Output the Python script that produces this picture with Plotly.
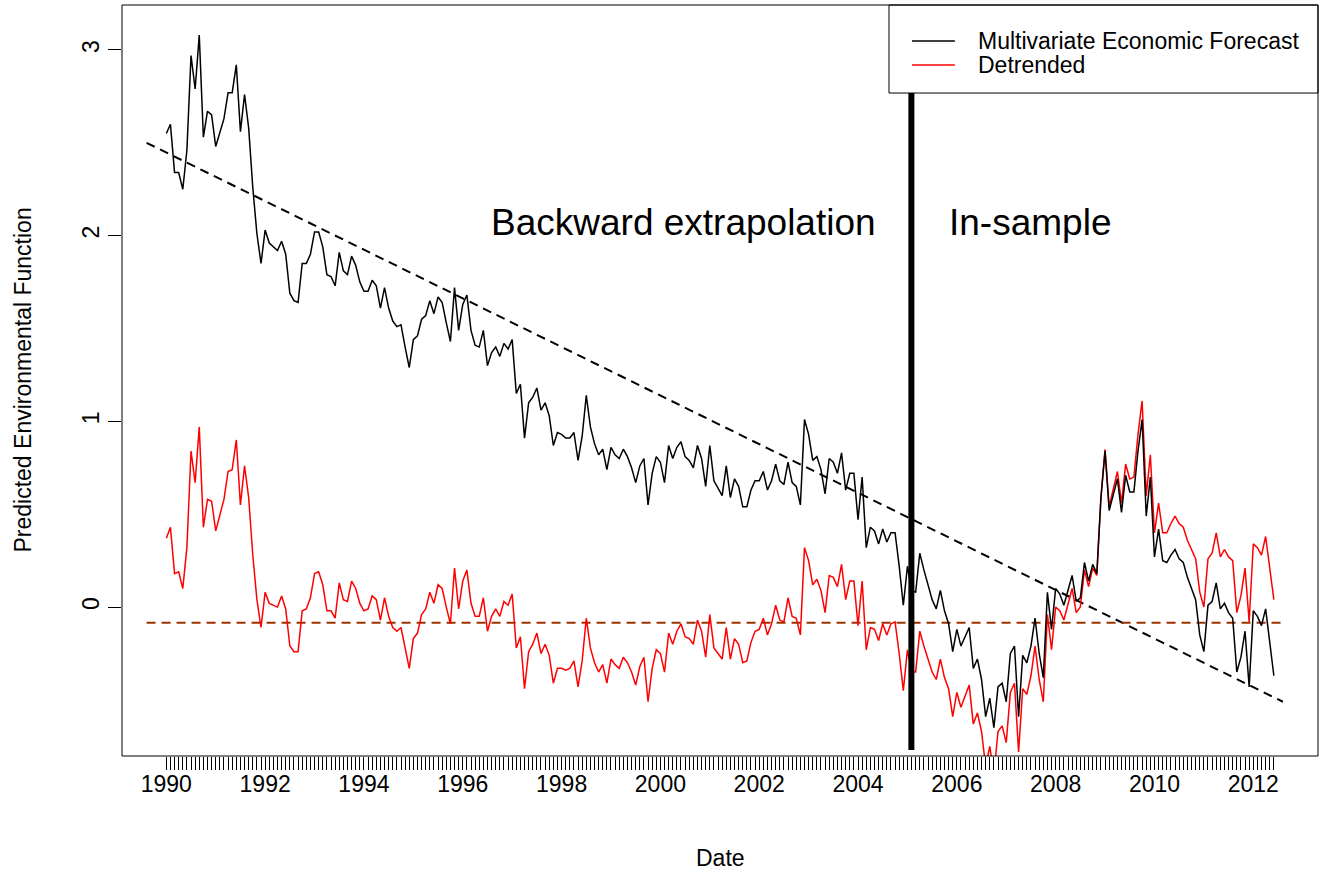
import plotly.graph_objects as go

# Monthly time axis: January 1990 .. June 2012
start_year = 1990
n_months = 270
months = [start_year + k / 12 for k in range(n_months)]

# Multivariate economic forecast (monthly)
forecast = [
    2.55, 2.60, 2.34, 2.34, 2.25, 2.46, 2.97, 2.79, 3.08, 2.53, 2.67, 2.65,
    2.48, 2.56, 2.63, 2.77, 2.77, 2.92, 2.56, 2.76, 2.58, 2.26, 2.01, 1.85,
    2.03, 1.96, 1.94, 1.92, 1.97, 1.90, 1.69, 1.65, 1.64, 1.85, 1.85, 1.90,
    2.02, 2.02, 1.94, 1.79, 1.78, 1.73, 1.91, 1.81, 1.79, 1.89, 1.84, 1.75,
    1.70, 1.70, 1.76, 1.73, 1.61, 1.72, 1.61, 1.54, 1.51, 1.52, 1.40, 1.29,
    1.44, 1.46, 1.55, 1.57, 1.65, 1.58, 1.67, 1.64, 1.53, 1.43, 1.72, 1.49,
    1.63, 1.68, 1.49, 1.41, 1.40, 1.49, 1.30, 1.37, 1.40, 1.35, 1.42, 1.39,
    1.44, 1.15, 1.20, 0.91, 1.10, 1.13, 1.18, 1.06, 1.10, 1.03, 0.87, 0.94,
    0.93, 0.91, 0.91, 0.94, 0.79, 0.92, 1.14, 0.97, 0.88, 0.82, 0.85, 0.74,
    0.86, 0.82, 0.80, 0.85, 0.81, 0.75, 0.67, 0.76, 0.80, 0.55, 0.72, 0.81,
    0.78, 0.67, 0.87, 0.80, 0.86, 0.89, 0.81, 0.79, 0.75, 0.87, 0.80, 0.65,
    0.87, 0.68, 0.64, 0.60, 0.76, 0.59, 0.69, 0.65, 0.54, 0.54, 0.63, 0.68,
    0.68, 0.73, 0.63, 0.68, 0.77, 0.68, 0.66, 0.78, 0.67, 0.65, 0.55, 1.01,
    0.93, 0.79, 0.81, 0.74, 0.61, 0.80, 0.78, 0.72, 0.83, 0.63, 0.72, 0.72,
    0.47, 0.70, 0.32, 0.43, 0.41, 0.34, 0.42, 0.35, 0.40, 0.40, 0.22, 0.01,
    0.22, 0.09, 0.08, 0.29, 0.20, 0.12, 0.04, -0.01, 0.09, -0.02, -0.09, -0.24,
    -0.12, -0.21, -0.16, -0.11, -0.33, -0.28, -0.39, -0.59, -0.49, -0.65, -0.43, -0.41,
    -0.51, -0.25, -0.21, -0.59, -0.26, -0.30, -0.21, -0.06, -0.25, -0.38, 0.08, -0.12,
    0.10, 0.07, 0.01, 0.09, 0.17, 0.03, 0.05, 0.24, 0.14, 0.23, 0.18, 0.59,
    0.84, 0.52, 0.60, 0.69, 0.51, 0.71, 0.62, 0.62, 0.84, 1.01, 0.49, 0.70,
    0.27, 0.42, 0.25, 0.24, 0.28, 0.31, 0.26, 0.24, 0.16, 0.10, 0.04, -0.15,
    -0.24, 0.01, 0.03, 0.13, -0.01, 0.02, -0.03, -0.06, -0.35, -0.27, -0.13, -0.43,
    -0.02, -0.05, -0.10, -0.01, -0.19, -0.37,
]

# Detrended series (monthly)
detrended = [
    0.37, 0.43, 0.18, 0.19, 0.10, 0.32, 0.84, 0.67, 0.97, 0.43, 0.58, 0.57,
    0.41, 0.50, 0.58, 0.73, 0.74, 0.90, 0.55, 0.76, 0.59, 0.28, 0.04, -0.11,
    0.08, 0.02, 0.01, 0.00, 0.06, -0.01, -0.21, -0.24, -0.24, -0.02, -0.01, 0.05,
    0.18, 0.19, 0.12, -0.02, -0.02, -0.06, 0.13, 0.04, 0.03, 0.14, 0.10, 0.02,
    -0.02, -0.01, 0.06, 0.04, -0.07, 0.05, -0.05, -0.11, -0.13, -0.11, -0.22, -0.33,
    -0.17, -0.14, -0.04, -0.01, 0.08, 0.02, 0.12, 0.10, 0.00, -0.09, 0.21, -0.01,
    0.14, 0.20, 0.02, -0.05, -0.05, 0.05, -0.13, -0.05, -0.01, -0.05, 0.03, 0.01,
    0.07, -0.22, -0.16, -0.44, -0.24, -0.20, -0.14, -0.25, -0.20, -0.26, -0.41, -0.33,
    -0.33, -0.34, -0.33, -0.29, -0.43, -0.29, -0.06, -0.22, -0.30, -0.35, -0.31, -0.41,
    -0.28, -0.31, -0.33, -0.27, -0.30, -0.35, -0.42, -0.32, -0.27, -0.51, -0.33, -0.23,
    -0.25, -0.35, -0.14, -0.20, -0.13, -0.09, -0.16, -0.17, -0.20, -0.07, -0.13, -0.27,
    -0.04, -0.22, -0.25, -0.28, -0.11, -0.28, -0.17, -0.20, -0.30, -0.29, -0.19, -0.13,
    -0.12, -0.06, -0.15, -0.09, 0.01, -0.07, -0.08, 0.05, -0.05, -0.06, -0.15, 0.32,
    0.25, 0.12, 0.15, 0.09, -0.03, 0.17, 0.16, 0.11, 0.23, 0.04, 0.14, 0.14,
    -0.10, 0.14, -0.23, -0.11, -0.12, -0.18, -0.09, -0.15, -0.09, -0.08, -0.25, -0.45,
    -0.23, -0.35, -0.35, -0.13, -0.21, -0.28, -0.35, -0.39, -0.28, -0.38, -0.44, -0.59,
    -0.46, -0.54, -0.48, -0.42, -0.63, -0.57, -0.67, -0.86, -0.75, -0.90, -0.67, -0.64,
    -0.73, -0.46, -0.41, -0.78, -0.44, -0.47, -0.37, -0.21, -0.39, -0.51, -0.04, -0.23,
    0.00, -0.02, -0.07, 0.02, 0.10, -0.03, 0.00, 0.20, 0.11, 0.21, 0.17, 0.59,
    0.85, 0.54, 0.63, 0.73, 0.56, 0.77, 0.69, 0.70, 0.93, 1.11, 0.60, 0.82,
    0.40, 0.56, 0.40, 0.40, 0.45, 0.49, 0.45, 0.43, 0.36, 0.31, 0.26, 0.08,
    0.00, 0.26, 0.29, 0.40, 0.27, 0.31, 0.27, 0.25, -0.03, 0.06, 0.21, -0.08,
    0.34, 0.32, 0.28, 0.38, 0.21, 0.04,
]

# Reference lines
trend_x = [1989.6, 2012.6]
trend_y = [2.50, -0.51]
mean_x = [1989.6, 2012.6]
mean_level = -0.085
break_date = 2005.08
break_y = [-0.77, 3.4]

# Axis ticks
label_years = list(range(1990, 2013, 2))
y_ticks = [0, 1, 2, 3]
tick_text = []
for m in months:
    yr = round(m)
    tick_text.append(str(yr) if abs(m - yr) < 1e-6 and yr in label_years else "")

FONT = "Liberation Sans, Arial, Helvetica, sans-serif"
SMALL = 23
DASH = "9px,6px"

fig = go.Figure()
fig.add_trace(go.Scatter(x=trend_x, y=trend_y, mode="lines",
                         line=dict(color="black", width=2, dash=DASH),
                         showlegend=False, hoverinfo="skip"))
fig.add_trace(go.Scatter(x=mean_x, y=[mean_level, mean_level], mode="lines",
                         line=dict(color="#993300", width=2, dash=DASH),
                         showlegend=False, hoverinfo="skip"))
fig.add_trace(go.Scatter(x=months, y=detrended, mode="lines",
                         line=dict(color="#FF0000", width=1.5),
                         name="Detrended", showlegend=False))
fig.add_trace(go.Scatter(x=months, y=forecast, mode="lines",
                         line=dict(color="black", width=1.5),
                         name="Multivariate Economic Forecast", showlegend=False))
fig.add_trace(go.Scatter(x=[break_date, break_date], y=break_y, mode="lines",
                         line=dict(color="black", width=6),
                         showlegend=False, hoverinfo="skip"))

# Legend box drawn in paper coordinates (top-right corner of the plot area)
lg_x0, lg_x1, lg_y0, lg_y1 = 0.6413, 1.0, 0.8828, 1.0
shapes = [
    dict(type="rect", xref="paper", yref="paper", x0=lg_x0, x1=lg_x1, y0=lg_y0, y1=lg_y1,
         line=dict(color="black", width=1), fillcolor="white", layer="above"),
    dict(type="line", xref="paper", yref="paper", x0=0.6605, x1=0.6964, y0=0.9521, y1=0.9521,
         line=dict(color="black", width=1.5), layer="above"),
    dict(type="line", xref="paper", yref="paper", x0=0.6605, x1=0.6964, y0=0.9201, y1=0.9201,
         line=dict(color="#FF0000", width=1.5), layer="above"),
    # plot frame
    dict(type="rect", xref="paper", yref="paper", x0=0, x1=1, y0=0, y1=1,
         line=dict(color="black", width=1), layer="above"),
]

annotations = [
    dict(xref="paper", yref="paper", x=0.7140, y=0.9521, xanchor="left", yanchor="middle",
         text="Multivariate Economic Forecast", showarrow=False,
         font=dict(family=FONT, size=SMALL, color="black")),
    dict(xref="paper", yref="paper", x=0.7140, y=0.9201, xanchor="left", yanchor="middle",
         text="Detrended", showarrow=False,
         font=dict(family=FONT, size=SMALL, color="black")),
    dict(x=2000.47, y=2.07, text="Backward extrapolation", showarrow=False,
         xanchor="center", yanchor="middle", font=dict(family=FONT, size=37, color="black")),
    dict(x=2007.49, y=2.07, text="In-sample", showarrow=False,
         xanchor="center", yanchor="middle", font=dict(family=FONT, size=37, color="black")),
    dict(xref="paper", yref="paper", x=0.5, y=0, yshift=-102, text="Date", showarrow=False,
         xanchor="center", yanchor="middle", font=dict(family=FONT, size=SMALL, color="black")),
    dict(xref="paper", yref="paper", x=0, y=0.5, xshift=-100, text="Predicted Environmental Function",
         showarrow=False, textangle=-90, xanchor="center", yanchor="middle",
         font=dict(family=FONT, size=SMALL, color="black")),
]

fig.update_layout(
    width=1321, height=872,
    margin=dict(l=122, r=3, t=5, b=116),
    paper_bgcolor="white", plot_bgcolor="white",
    font=dict(family=FONT, size=SMALL, color="black"),
    shapes=shapes, annotations=annotations,
    xaxis=dict(range=[1989.103, 2013.31], tickmode="array", tickvals=months, ticktext=tick_text,
               ticks="outside", ticklen=13, tickwidth=1, tickcolor="black",
               ticklabelstandoff=-6,
               showgrid=False, zeroline=False, showline=False,
               tickfont=dict(family=FONT, size=SMALL, color="black")),
    yaxis=dict(range=[-0.802, 3.242], tickmode="array", tickvals=y_ticks,
               ticktext=[str(v) for v in y_ticks], tickangle=-90,
               ticks="outside", ticklen=13, tickwidth=1, tickcolor="black",
               showgrid=False, zeroline=False, showline=False,
               tickfont=dict(family=FONT, size=SMALL, color="black")),
)

fig.write_html("out.html")
